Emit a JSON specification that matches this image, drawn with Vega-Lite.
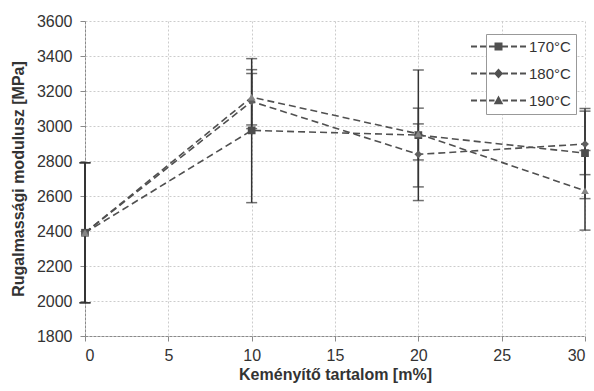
{
  "$schema": "https://vega.github.io/schema/vega-lite/v6.json",
  "width": 500,
  "height": 315,
  "autosize": {"type": "none"},
  "padding": {"left": 85, "top": 21, "right": 9, "bottom": 55},
  "background": "white",
  "config": {
    "view": {"stroke": null},
    "font": "Liberation Sans",
    "axis": {
      "labelFont": "Liberation Sans",
      "labelFontSize": 16,
      "labelColor": "#333",
      "titleFont": "Liberation Sans",
      "titleFontSize": 16,
      "titleFontWeight": "bold",
      "titleColor": "#333",
      "gridColor": "#cccccc",
      "gridDash": [2, 2],
      "gridWidth": 1,
      "domainColor": "#8a8a8a",
      "domainDash": [3, 1],
      "tickColor": "#8a8a8a",
      "tickSize": 5,
      "labelOverlap": false
    }
  },
  "data": {
    "values": [
      {"t": "170°C", "x": 0, "y": 2390, "lo": 1990, "hi": 2790},
      {"t": "170°C", "x": 10, "y": 2975, "lo": 2562, "hi": 3385},
      {"t": "170°C", "x": 20, "y": 2948, "lo": 2574, "hi": 3320},
      {"t": "170°C", "x": 30, "y": 2845, "lo": 2585, "hi": 3100},
      {"t": "180°C", "x": 0, "y": 2390, "lo": 1990, "hi": 2790},
      {"t": "180°C", "x": 10, "y": 3140, "lo": 2985, "hi": 3300},
      {"t": "180°C", "x": 20, "y": 2838, "lo": 2652, "hi": 3012},
      {"t": "180°C", "x": 30, "y": 2897, "lo": 2722, "hi": 3085},
      {"t": "190°C", "x": 0, "y": 2390, "lo": 1990, "hi": 2790},
      {"t": "190°C", "x": 10, "y": 3165, "lo": 3006, "hi": 3322},
      {"t": "190°C", "x": 20, "y": 2955, "lo": 2806, "hi": 3102},
      {"t": "190°C", "x": 30, "y": 2630, "lo": 2405, "hi": 2860}
    ]
  },
  "encoding": {
    "x": {
      "field": "x", "type": "quantitative",
      "scale": {"domain": [0, 30], "nice": false},
      "axis": {"values": [0, 5, 10, 15, 20, 25, 30], "title": "Keményítő tartalom [m%]", "labelPadding": 6, "titlePadding": 3}
    }
  },
  "layer": [
    {
      "mark": {"type": "rule", "color": "#333", "strokeWidth": 1.5},
      "encoding": {
        "y": {"field": "lo", "type": "quantitative", "scale": {"domain": [1800, 3600], "nice": false, "zero": false},
          "axis": {"values": [1800, 2000, 2200, 2400, 2600, 2800, 3000, 3200, 3400, 3600], "format": "d", "title": "Rugalmassági modulusz [MPa]", "labelPadding": 8, "titlePadding": 10}},
        "y2": {"field": "hi"}
      }
    },
    {
      "mark": {"type": "tick", "color": "#333", "thickness": 1.5, "size": 11, "orient": "horizontal"},
      "encoding": {"y": {"field": "lo", "type": "quantitative", "scale": {"domain": [1800, 3600], "nice": false, "zero": false},
          "axis": {"values": [1800, 2000, 2200, 2400, 2600, 2800, 3000, 3200, 3400, 3600], "format": "d", "title": "Rugalmassági modulusz [MPa]", "labelPadding": 8, "titlePadding": 10}}}
    },
    {
      "mark": {"type": "tick", "color": "#333", "thickness": 1.5, "size": 11, "orient": "horizontal"},
      "encoding": {"y": {"field": "hi", "type": "quantitative", "scale": {"domain": [1800, 3600], "nice": false, "zero": false},
          "axis": {"values": [1800, 2000, 2200, 2400, 2600, 2800, 3000, 3200, 3400, 3600], "format": "d", "title": "Rugalmassági modulusz [MPa]", "labelPadding": 8, "titlePadding": 10}}}
    },
    {
      "mark": {"type": "line", "color": "#505050", "strokeWidth": 1.6, "strokeDash": [7, 4]},
      "encoding": {
        "y": {"field": "y", "type": "quantitative", "scale": {"domain": [1800, 3600], "nice": false, "zero": false},
          "axis": {"values": [1800, 2000, 2200, 2400, 2600, 2800, 3000, 3200, 3400, 3600], "format": "d", "title": "Rugalmassági modulusz [MPa]", "labelPadding": 8, "titlePadding": 10}},
        "detail": {"field": "t"}
      }
    },
    {
      "mark": {"type": "point", "filled": true, "opacity": 1, "size": 60},
      "encoding": {
        "y": {"field": "y", "type": "quantitative", "scale": {"domain": [1800, 3600], "nice": false, "zero": false},
          "axis": {"values": [1800, 2000, 2200, 2400, 2600, 2800, 3000, 3200, 3400, 3600], "format": "d", "title": "Rugalmassági modulusz [MPa]", "labelPadding": 8, "titlePadding": 10}},
        "color": {
          "field": "t", "type": "nominal",
          "scale": {"range": ["#4d4d4d", "#5e5e5e", "#858585"]},
          "legend": null
        },
        "shape": {
          "field": "t", "type": "nominal",
          "scale": {"range": ["square", "diamond", "triangle-up"]},
          "legend": null
        }
      }
    },
    {
      "mark": {"type": "point", "filled": true, "size": 0, "color": "#505050"},
      "encoding": {
        "y": {"field": "y", "type": "quantitative", "scale": {"domain": [1800, 3600], "nice": false, "zero": false},
          "axis": {"values": [1800, 2000, 2200, 2400, 2600, 2800, 3000, 3200, 3400, 3600], "format": "d", "title": "Rugalmassági modulusz [MPa]", "labelPadding": 8, "titlePadding": 10}},
        "shape": {
          "field": "t", "type": "nominal",
          "scale": {"range": [
            "M-5.5,-0.2H-4.3V0.2H-5.5Z M-3.7,-0.2H-2.5V0.2H-3.7Z M-1.9,-0.2H-0.8V0.2H-1.9Z M0.8,-0.2H1.9V0.2H0.8Z M2.5,-0.2H3.7V0.2H2.5Z M4.3,-0.2H5.5V0.2H4.3Z M-0.8,-0.8H0.8V0.8H-0.8Z",
            "M-5.5,-0.2H-4.3V0.2H-5.5Z M-3.7,-0.2H-2.5V0.2H-3.7Z M-1.9,-0.2H-0.8V0.2H-1.9Z M0.8,-0.2H1.9V0.2H0.8Z M2.5,-0.2H3.7V0.2H2.5Z M4.3,-0.2H5.5V0.2H4.3Z M0,-1L0.9,0L0,1L-0.9,0Z",
            "M-5.5,-0.2H-4.3V0.2H-5.5Z M-3.7,-0.2H-2.5V0.2H-3.7Z M-1.9,-0.2H-0.8V0.2H-1.9Z M0.8,-0.2H1.9V0.2H0.8Z M2.5,-0.2H3.7V0.2H2.5Z M4.3,-0.2H5.5V0.2H4.3Z M0,-1L0.95,0.75L-0.95,0.75Z"
          ]},
          "legend": {
            "title": null,
            "orient": "none",
            "legendX": 401,
            "legendY": 13,
            "padding": 5,
            "strokeColor": "#999",
            "fillColor": "white",
            "labelFont": "Liberation Sans",
            "labelFontSize": 15,
            "labelColor": "#333",
            "symbolSize": 100,
            "symbolFillColor": "#505050",
            "symbolStrokeWidth": 0,
            "symbolOpacity": 1,
            "labelOffset": 23,
            "rowPadding": 11,
            "encode": {
              "legend": {"update": {"strokeDash": {"value": [2, 2]}}},
              "symbols": {"update": {"opacity": {"value": 1}, "strokeWidth": {"value": 0}}}
            }
          }
        }
      }
    }
  ],
  "resolve": {"scale": {"shape": "independent"}, "legend": {"shape": "independent"}}
}
